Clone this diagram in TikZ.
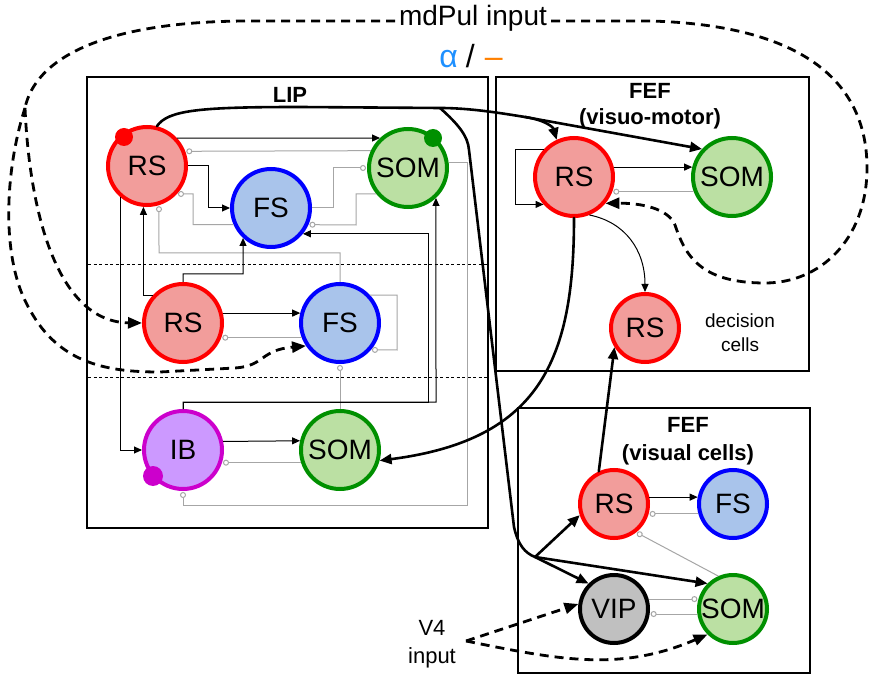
\documentclass[tikz,border=0pt]{standalone}
\usepackage{fontspec}
\setmainfont{Liberation Sans}
\usetikzlibrary{arrows.meta}
\definecolor{rsfill}{HTML}{F29D9B}
\definecolor{rsline}{HTML}{FF0000}
\definecolor{somfill}{HTML}{BBE0A3}
\definecolor{somline}{HTML}{009000}
\definecolor{fsfill}{HTML}{A9C4EB}
\definecolor{fsline}{HTML}{0000FF}
\definecolor{ibfill}{HTML}{CC99FF}
\definecolor{ibline}{HTML}{CC00CC}
\definecolor{vipfill}{HTML}{C0C0C0}
\definecolor{inhgray}{HTML}{A6A6A6}
\definecolor{alphablue}{HTML}{1E90FF}
\definecolor{dashorange}{HTML}{FF8000}
\begin{document}
\begin{tikzpicture}[x=1pt,y=-1pt,
 neuron/.style={circle, line width=4pt, minimum size=78pt, inner sep=0pt, font=\fontsize{28}{32}\selectfont},
 smallcell/.style={neuron, minimum size=68pt},
 rsc/.style={draw=rsline, fill=rsfill},
 somc/.style={draw=somline, fill=somfill},
 fsc/.style={draw=fsline, fill=fsfill},
 ibc/.style={draw=ibline, fill=ibfill},
 vipc/.style={draw=black, fill=vipfill},
 area/.style={draw=black, line width=2pt},
 divider/.style={draw=black, line width=0.9pt, dash pattern=on 3pt off 2.5pt},
 exc/.style={draw=black, line width=1pt, -{Triangle[length=8pt,width=7pt]}},
 inh/.style={draw=inhgray, line width=1pt, shorten >=1pt, -{Circle[open,length=6pt,width=6pt,fill=white,line width=1pt]}},
 strong/.style={draw=black, line width=2.6pt, line cap=round, line join=round, -{Triangle[length=12pt,width=10pt]}},
 strongline/.style={draw=black, line width=2.6pt, line cap=round, line join=round},
 pulse/.style={draw=black, line width=2.8pt, dash pattern=on 9pt off 6pt},
 pulsearrow/.style={pulse, -{Triangle[length=14pt,width=11pt]}},
 areatitle/.style={font=\fontsize{22}{26}\selectfont\bfseries, anchor=base, inner sep=0pt},
 txt/.style={anchor=base, inner sep=0pt},
 blob/.style={circle, inner sep=0pt, minimum size=18pt}
]
\fill[white] (0,0) rectangle (875,700);
\useasboundingbox (0,0) rectangle (875,700);

% areas
\draw[area] (87,77) rectangle (488,528);
\draw[area] (496,77) rectangle (809,371);
\draw[area] (518,408) rectangle (810,673);
\draw[divider] (88,264) -- (487,264);
\draw[divider] (88,377) -- (487,377);

% neurons
\node[neuron,rsc] (rsA) at (147,166) {RS};
\node[neuron,somc] (somA) at (408,168) {SOM};
\node[neuron,fsc] (fsA) at (271,208) {FS};
\node[neuron,rsc] (rsB) at (183,323) {RS};
\node[neuron,fsc] (fsB) at (340,323) {FS};
\node[neuron,ibc] (ib) at (183,450) {IB};
\node[neuron,somc] (somB) at (340,450) {SOM};
\node[neuron,rsc] (rsM) at (574,177) {RS};
\node[neuron,somc] (somM) at (732,177) {SOM};
\node[smallcell,rsc] (rsD) at (645,328) {RS};
\node[smallcell,rsc] (rsV) at (614,504) {RS};
\node[smallcell,fsc] (fsV) at (733,504) {FS};
\node[smallcell,vipc] (vip) at (614,609) {VIP};
\node[smallcell,somc] (somV) at (733,609) {SOM};

\node[blob, fill=rsline] (dotA) at (124,137) {};
\node[blob, fill=somline] (dotB) at (433,138) {};
\node[blob, fill=ibline, minimum size=20pt] (dotC) at (153,476) {};

% labels
\node[areatitle] (lipT) at (290,103) {LIP};
\node[areatitle] (fefT1) at (650,99) {FEF};
\node[areatitle] (fefS1) at (650,125) {(visuo-motor)};
\node[areatitle] (fefT2) at (688,432) {FEF};
\node[areatitle] (fefS2) at (688,460) {(visual cells)};
\node[txt, font=\fontsize{28}{32}\selectfont] (md) at (473,26) {mdPul input};
\node[txt, font=\fontsize{32}{36}\selectfont] (ab) at (471,68) {\textcolor{alphablue}{α}\hspace{8pt}/\hspace{10pt}\textcolor{dashorange}{–}};
\node[txt, font=\fontsize{19}{23}\selectfont] (dec1) at (740,328) {decision};
\node[txt, font=\fontsize{19}{23}\selectfont] (dec2) at (740,352) {cells};
\node[txt, font=\fontsize{22}{26}\selectfont] (v4a) at (432,635) {V4};
\node[txt, font=\fontsize{22}{26}\selectfont] (v4b) at (432,663) {input};

% LIP inhibitory (gray)
\draw[inh] (somA.155.5) -- (rsA.21.5);
\draw[inh] (fsA.204.5) -| (193,194) -- (rsA.-43);
\draw[inh] (fsA.east) -- ++(21,0) |- (somA.west);
\draw[inh] (somA.219) -| (356,225) -- (fsA.-24.5);
\draw[inh] (fsB.north) |- (159,253) -- (rsA.-73);
\draw[inh] (fsB.201.5) -- (rsB.-21.5);
\draw[inh] (fsB.43) -| (397,350) -- (fsB.-41);
\draw[inh] (somB.north) -- (fsB.south);
\draw[inh] (somB.198.5) -- (ib.-18.5);
\draw[inh] (somA.8.4) -| (467,505) -| (ib.south);

% LIP excitatory
\draw[exc] (rsA.43) -- (somA.133);
\draw[exc] (rsA.east) -- ++(20,0) |- (fsA.west);
\draw[exc] (ib.north) |- (428,402) |- (fsA.-39.4);
\draw[exc] (ib.north) |- (436,402) -- (somA.-47);
\draw[exc] (rsB.137) -| (rsA.-95.6);
\draw[exc] (rsB.north) |- (243,274) -- (fsA.227);
\draw[exc] (rsA.229) |- (ib.west);
\draw[exc] (rsB.14) -- (fsB.166);
\draw[exc] (ib.12.7) -- (somB.167.3);

% FEF visuo-motor
\draw[exc] (rsM.14) -- (somM.166);
\draw[inh] (somM.201.5) -- (rsM.-21.5);
\draw[exc] (rsM.138) -- ++(-28,0) |- (rsM.222);
\draw[exc] (rsM.-68) .. controls (625,222) and (645,250) .. (rsD.north);

% FEF visual
\draw[exc] (rsV.11) -- (fsV.169);
\draw[inh] (fsV.196) -- (rsV.-16);
\draw[inh] (somV.114) -- (rsV.-52);
\draw[inh] (vip.16) -- (somV.164);
\draw[inh] (somV.188) -- (vip.-8);

% strong projections
\coordinate (bA) at (440,108);
\coordinate (bB) at (525,117);
\coordinate (bC) at (535,557);
\draw[strongline] (rsA.76) .. controls (168,110) and (200,107) .. (300,107) -- (bA) .. controls (470,108) and (500,113) .. (bB);
\draw[strong] (bB) .. controls (545,120) and (553,127) .. (rsM.115);
\draw[strong] (bB) -- (somM.137);
\draw[strongline] (bA) .. controls (458,124) and (468,136) .. (469,150) -- (514,527) .. controls (518,545) and (525,553) .. (bC);
\draw[strong] (bC) -- (rsV.198);
\draw[strong] (bC) -- (vip.135);
\draw[strong] (bC) -- (somV.135);
\draw[strong] (rsM.-90) .. controls (574,360) and (540,440) .. (somB.-15);
\draw[strong] (rsV.115) -- (rsD.212);

% inputs
\coordinate (mdL) at (395,21);
\coordinate (mdR) at (551,21);
\coordinate (cusp) at (25,108);
\draw[pulse] (mdL) -- (250,21) .. controls (100,21) and (35,60) .. (cusp);
\draw[pulsearrow] (cusp) .. controls (30,220) and (60,322) .. (rsB.west);
\draw[pulsearrow] (cusp) .. controls (5,170) and (0,260) .. (30,310) .. controls (60,365) and (110,372) .. (160,372) -- (235,368) .. controls (265,366) and (260,350) .. (fsB.214);
\draw[pulsearrow] (mdR) -- (650,21) .. controls (800,25) and (868,80) .. (867,170) .. controls (866,240) and (820,283) .. (765,283) .. controls (700,283) and (685,255) .. (675,225) .. controls (668,208) and (640,203) .. (rsM.-40);
\coordinate (v4) at (466,641);
\draw[pulsearrow] (v4) -- (vip.172);
\draw[pulsearrow] (v4) .. controls (560,660) and (620,672) .. (somV.225);
\end{tikzpicture}
\end{document}
